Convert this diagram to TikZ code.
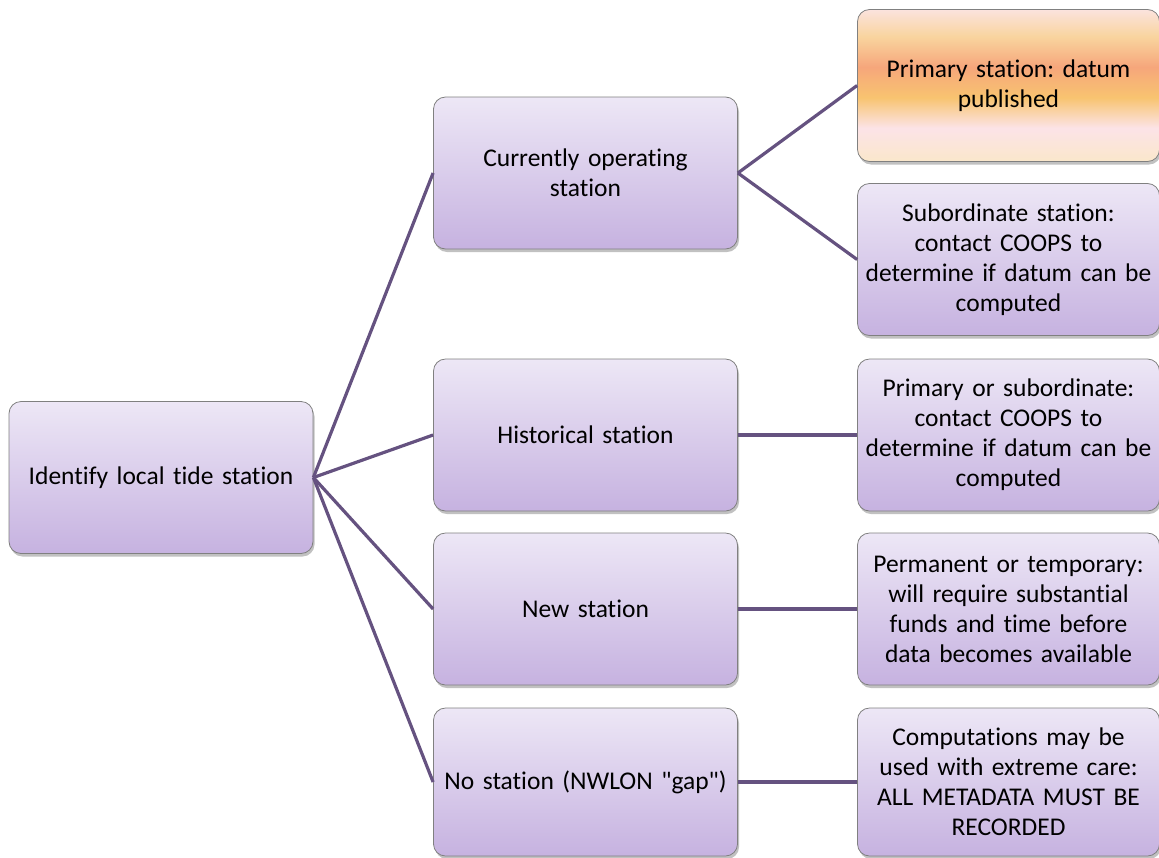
\documentclass[tikz,border=0pt]{standalone}
\usepackage{fontspec}
\setmainfont{Carlito}[Ligatures={NoCommon}]
\frenchspacing
\usetikzlibrary{shadows}
\definecolor{purpT}{HTML}{EDE7F6}
\definecolor{purpB}{HTML}{C6B2E0}
\definecolor{edgeC}{HTML}{655280}
\definecolor{bordC}{HTML}{808080}
\definecolor{o1}{HTML}{FBE3DE}
\definecolor{o2}{HTML}{F9D49E}
\definecolor{o3}{HTML}{F6A67B}
\definecolor{o4}{HTML}{F8C470}
\definecolor{o5}{HTML}{FCE3E7}
\definecolor{o6}{HTML}{FAE7CB}
\pgfdeclareverticalshading{orng}{100bp}{color(0bp)=(o6); color(25bp)=(o6); color(36bp)=(o5); color(46bp)=(o4); color(56bp)=(o3); color(66bp)=(o2); color(75bp)=(o1); color(100bp)=(o1)}
\tikzset{
  box/.style={draw=bordC, line width=0.8pt, rounded corners=12pt, minimum width=304pt, minimum height=152pt,
    text width=300pt, align=center, inner sep=1pt, top color=purpT, bottom color=purpB,
    font=\fontsize{25.5}{30}\selectfont,
    drop shadow={shadow xshift=1.5pt, shadow yshift=-3pt, opacity=0.35, fill=black!70}},
  rbox/.style={box, minimum width=301pt},
  hot/.style={rbox, shading=orng},
  conn/.style={draw=edgeC, line width=3.2pt}
}
\begin{document}
\begin{tikzpicture}[x=1pt,y=-1pt]
\useasboundingbox (0,0) rectangle (1159,857);
\node[box] (root) at (161,477.5) {Identify local tide station};
\node[box] (cur) at (585.5,173) {Currently operating\\station};
\node[box] (hist) at (585.5,435) {Historical station};
\node[box] (new) at (585.5,609) {New station};
\node[box, minimum height=148pt] (none) at (585.5,782) {No station (NWLON \textquotedbl gap\textquotedbl)};
\node[hot] (prim) at (1008.5,85.5) {Primary station: datum\\published};
\node[rbox] (sub) at (1008.5,259.5) {Subordinate station:\\contact COOPS to\\determine if datum can be\\computed};
\node[rbox] (pos) at (1008.5,435) {Primary or subordinate:\\contact COOPS to\\determine if datum can be\\computed};
\node[rbox] (perm) at (1008.5,609) {Permanent or temporary:\\will require substantial\\funds and time before\\data becomes available};
\node[rbox, minimum height=148pt] (comp) at (1008.5,782) {Computations may be\\used with extreme care:\\ALL METADATA MUST BE\\RECORDED};
\draw[conn] (root.east) -- (cur.west);
\draw[conn] (root.east) -- (hist.west);
\draw[conn] (root.east) -- (new.west);
\draw[conn] (root.east) -- (none.west);
\draw[conn] (cur.east) -- (prim.west);
\draw[conn] (cur.east) -- (sub.west);
\draw[conn] (hist.east) -- (pos.west);
\draw[conn] (new.east) -- (perm.west);
\draw[conn] (none.east) -- (comp.west);
\end{tikzpicture}
\end{document}
